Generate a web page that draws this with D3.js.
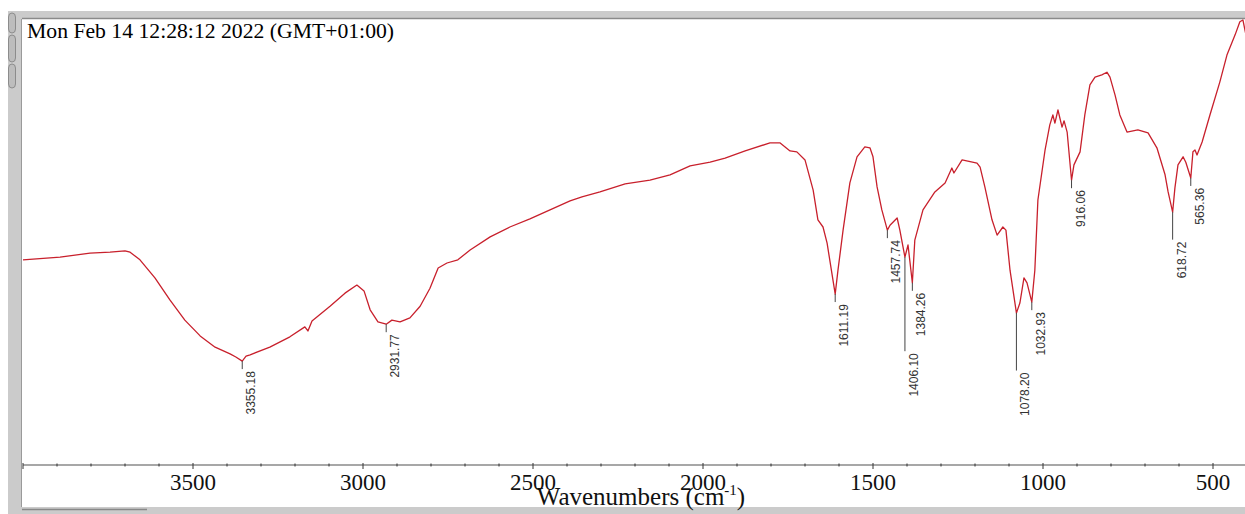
<!DOCTYPE html>
<html lang="en">
<head>
  <meta charset="UTF-8">
  <title>FTIR spectrum</title>
  <script src="https://d3js.org/d3.v7.min.js"></script>
  <style>
    body { margin: 0; background: #fff; }
    .tick-label { font: 23px "Liberation Serif", serif; fill: #111; }
    .axis-title { font: 25px "Liberation Serif", serif; fill: #111; }
    .peak-label { font: 12px "Liberation Sans", Arial, sans-serif; fill: #333; }
    .stamp { font: 21.7px "Liberation Serif", serif; fill: #000; }
  </style>
</head>
<body>
  <svg width="1245" height="514"></svg>

  <script>
    const width = 1245;
    const height = 514;

    // spectrum (wavenumber cm-1, transmittance %)
    const wavenumbers = [
      4000, 3891, 3803, 3744, 3700, 3685, 3656, 3612, 3568, 3524, 3479, 3435, 3391, 3374, 3355.18,
      3344, 3332, 3274, 3215, 3171, 3162, 3150, 3097, 3053, 3018, 2997, 2979, 2956, 2931.77, 2915,
      2891, 2862, 2832, 2803, 2779, 2753, 2721, 2685, 2626, 2568, 2509, 2450, 2391, 2356, 2303,
      2229, 2156, 2097, 2038, 1979, 1935, 1876, 1803, 1774, 1744, 1724, 1700, 1676, 1662, 1647,
      1635, 1611.19, 1603, 1588, 1568, 1547, 1524, 1509, 1500, 1488, 1474, 1457.74, 1450, 1429, 1421,
      1406.10, 1397, 1384.26, 1377, 1353, 1318, 1288, 1268, 1262, 1238, 1194, 1185, 1171, 1150, 1135,
      1118, 1109, 1097, 1078.20, 1068, 1056, 1047, 1032.93, 1024, 1015, 994, 980, 971, 965, 956,
      944, 938, 929, 916.06, 909, 891, 877, 862, 847, 827, 812, 803, 788, 774, 753,
      721, 691, 665, 641, 632, 618.72, 612, 603, 588, 580, 565.36, 559, 553, 547, 532,
      509, 480, 459, 435, 421, 412, 404
    ];
    const transmittance = [
      46.7, 47.3, 48.2, 48.4, 48.7, 48.4, 46.7, 42.7, 37.8, 33.3, 29.8, 27.3, 25.8, 25.1, 24.2,
      25.3, 25.6, 27.3, 29.6, 31.8, 30.9, 33.1, 36.4, 39.3, 41.1, 39.8, 35.6, 32.9, 32.4, 33.3,
      32.9, 33.8, 36.4, 40.4, 44.9, 46.0, 46.7, 48.9, 51.8, 54.0, 55.8, 57.8, 59.8, 60.7, 61.8,
      63.6, 64.4, 65.6, 67.6, 68.4, 69.3, 70.9, 72.7, 72.7, 70.9, 70.7, 68.9, 62.2, 55.6, 54.0,
      50.4, 39.1, 44.4, 53.3, 63.8, 69.6, 71.8, 71.6, 69.6, 62.9, 57.8, 53.3, 54.4, 56.0, 53.3,
      47.3, 50.0, 41.6, 51.1, 57.8, 61.8, 63.8, 67.1, 66.0, 68.9, 68.2, 67.3, 62.9, 55.6, 52.2,
      54.0, 53.3, 44.4, 34.9, 37.1, 42.7, 41.6, 37.3, 44.4, 60.0, 71.1, 76.7, 78.9, 77.1, 80.0,
      76.2, 77.6, 75.1, 64.4, 67.8, 70.7, 78.9, 85.6, 87.3, 87.8, 88.4, 87.3, 83.3, 78.9, 75.1,
      75.6, 74.9, 71.6, 65.6, 61.8, 57.3, 62.7, 67.8, 69.6, 68.4, 64.9, 70.7, 71.1, 70.0, 72.9,
      78.9, 86.2, 92.2, 96.7, 99.6, 100, 97.0
    ];

    const peaks = [3355.18, 2931.77, 1611.19, 1457.74, 1406.10, 1384.26, 1078.20, 1032.93, 916.06, 618.72, 565.36];
    const majorTicks = [3500, 3000, 2500, 2000, 1500, 1000, 500];
    const stamp = "Mon Feb 14 12:28:12 2022 (GMT+01:00)";

    const data = wavenumbers.map((w, i) => ({ w: w, t: transmittance[i] }));

    const svg = d3.select("svg")
        .attr("width", width)
        .attr("height", height);

    // window chrome
    svg.append("rect").attr("x", 8).attr("y", 11).attr("width", width - 8).attr("height", height - 11)
        .attr("fill", "#cbcbcb");
    svg.append("rect").attr("x", 22).attr("y", 19).attr("width", width - 22).attr("height", 488)
        .attr("fill", "#fff");
    svg.append("line").attr("x1", 22).attr("x2", width).attr("y1", 18.5).attr("y2", 18.5)
        .attr("stroke", "#8a8a8a").attr("stroke-width", 1.5);
    svg.append("line").attr("x1", 21.5).attr("x2", 21.5).attr("y1", 19).attr("y2", 507)
        .attr("stroke", "#9a9a9a");
    svg.append("line").attr("x1", 22).attr("x2", 147).attr("y1", 509.5).attr("y2", 509.5)
        .attr("stroke", "#888").attr("stroke-width", 1.5);
    [[13, 20], [35, 27], [64, 24]].forEach(b => {
      svg.append("rect").attr("x", 8.5).attr("y", b[0]).attr("width", 7).attr("height", b[1])
          .attr("rx", 4).attr("fill", "#bdbdbd").attr("stroke", "#8c8c8c");
    });

    const x = d3.scaleLinear().domain([4000, 400]).range([23, 23 + 3600 * 0.34]);
    const y = d3.scaleLinear().domain([0, 100]).range([470, 20]);

    svg.append("clipPath").attr("id", "plot")
        .append("rect").attr("x", 22).attr("y", 19).attr("width", width - 22).attr("height", 446);

    // axis
    const axisY = 465;
    svg.append("line").attr("x1", 23).attr("x2", width).attr("y1", axisY).attr("y2", axisY)
        .attr("stroke", "#8a8a8a").attr("stroke-width", 1.5);
    const minor = d3.range(4000, 400, -100).filter(v => v % 500 !== 0);
    svg.append("g").selectAll("line").data(minor).enter().append("line")
        .attr("x1", d => x(d)).attr("x2", d => x(d))
        .attr("y1", axisY - 1.5).attr("y2", axisY + 1.5)
        .attr("stroke", "#333");
    svg.append("g").selectAll("line").data(majorTicks.concat([4000])).enter().append("line")
        .attr("x1", d => x(d)).attr("x2", d => x(d))
        .attr("y1", axisY - 2).attr("y2", axisY + 4)
        .attr("stroke", "#333");
    svg.append("g").selectAll("text").data(majorTicks).enter().append("text")
        .attr("class", "tick-label")
        .attr("x", d => x(d)).attr("y", 490)
        .attr("text-anchor", "middle")
        .text(d => d);

    const title = svg.append("text").attr("class", "axis-title")
        .attr("x", 641).attr("y", 505).attr("text-anchor", "middle");
    title.append("tspan").text("Wavenumbers (cm");
    title.append("tspan").attr("font-size", "15px").attr("dy", -10).text("-1");
    title.append("tspan").attr("dy", 10).text(")");

    // spectrum
    const line = d3.line().x(d => x(d.w)).y(d => y(d.t));
    svg.append("path")
        .datum(data)
        .attr("clip-path", "url(#plot)")
        .attr("fill", "none")
        .attr("stroke", "#c8202c")
        .attr("stroke-width", 1.3)
        .attr("stroke-linejoin", "round")
        .attr("d", line);

    // peak picks, staggered where labels would collide
    const placed = [];
    const ann = svg.append("g");
    peaks.slice().sort((a, b) => a - b).forEach(p => {
      const px = x(p);
      const i = wavenumbers.indexOf(p);
      const py = y(transmittance[i]);
      const cx = px + 9;
      const txt = ann.append("text").attr("class", "peak-label")
          .attr("text-anchor", "end").attr("dominant-baseline", "central")
          .text(p.toFixed(2));
      const len = txt.node().getComputedTextLength();
      let top = py + 10;
      let moved = true;
      while (moved) {
        moved = false;
        placed.forEach(o => {
          if (Math.abs(o.cx - cx) < 20 && top < o.bottom && top + len > o.top) {
            top = o.bottom + 17;
            moved = true;
          }
        });
      }
      placed.push({ cx: cx, top: top, bottom: top + len });
      txt.attr("transform", `translate(${cx},${top}) rotate(-90)`);
      ann.append("line")
          .attr("x1", px).attr("x2", px)
          .attr("y1", py).attr("y2", top - 2)
          .attr("stroke", "#444").attr("stroke-width", 1);
    });

    svg.append("text").attr("class", "stamp")
        .attr("x", 27).attr("y", 38)
        .text(stamp);
  </script>
</body>
</html>
